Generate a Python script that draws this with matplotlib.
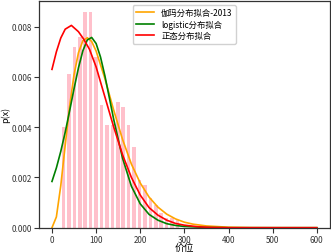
import numpy as np
import matplotlib
matplotlib.use("Agg")
import matplotlib.pyplot as plt

plt.rcParams['font.family'] = ['Noto Sans CJK SC', 'DejaVu Sans']
plt.rcParams['axes.unicode_minus'] = False

# histogram (density per bin), bins of ~12.3 starting near 20
bin_start, bin_width = 20.0, 12.3
hist_density = [0.0040, 0.0061, 0.0072, 0.0076, 0.0086, 0.0086, 0.0068, 0.0049,
                0.0041, 0.0041, 0.0050, 0.0048, 0.0041, 0.0032, 0.0019, 0.0017,
                0.0012, 0.0009, 0.0006, 0.0004, 0.0004, 0.0003]

# fitted curves
gamma_x = [0, 10, 20, 30, 40, 50, 60, 70, 80, 90, 100, 120, 140, 160, 180, 200,
           220, 240, 260, 280, 300, 320, 350, 400, 450, 500, 600]
gamma_y = [0, 0.00043, 0.00168, 0.00328, 0.00483, 0.00609, 0.00696, 0.00744,
           0.00756, 0.00741, 0.00703, 0.00593, 0.00467, 0.00351, 0.00253, 0.00178,
           0.00122, 0.00082, 0.00054, 0.00035, 0.00022, 0.00014, 0.00007, 0.00002,
           0.000005, 0.000001, 0]

logit_x = [0, 10, 20, 30, 40, 50, 60, 70, 80, 90, 100, 110, 120, 140, 160, 180,
           200, 220, 240, 260, 280, 300, 350, 400, 500, 600]
logit_y = [0.00184, 0.00238, 0.00304, 0.00380, 0.00465, 0.00553, 0.00636, 0.00704,
           0.00747, 0.00757, 0.00733, 0.00679, 0.00604, 0.00430, 0.00276, 0.00165,
           0.00095, 0.00053, 0.00030, 0.00016, 0.00009, 0.00005, 0.00001, 0, 0, 0]

norm_x = [0, 10, 20, 30, 44, 60, 72, 85, 100, 120, 140, 160, 180, 200, 220, 240,
          260, 280, 300, 330, 360, 400, 500, 600]
norm_y = [0.0063, 0.0070, 0.00755, 0.0079, 0.00805, 0.0078, 0.0075, 0.0071, 0.0064,
          0.0052, 0.0040, 0.0029, 0.0020, 0.0013, 0.0008, 0.0005, 0.0003, 0.00017,
          0.0001, 0.00004, 0.00001, 0, 0, 0]

labels = ["伽玛分布拟合-2013", "logistic分布拟合", "正态分布拟合"]

edges = bin_start + bin_width * np.arange(len(hist_density) + 1)
centers = (edges[:-1] + edges[1:]) / 2

fig = plt.figure(figsize=(3.31, 2.53), dpi=100)
ax = fig.add_axes([0.117, 0.096, 0.88, 0.897])
ax.hist(centers, bins=edges, weights=hist_density, rwidth=0.65, color="pink")
ax.plot(gamma_x, gamma_y, color="orange", lw=1.2, label=labels[0])
ax.plot(logit_x, logit_y, color="green", lw=1.2, label=labels[1])
ax.plot(norm_x, norm_y, color="red", lw=1.2, label=labels[2])

ax.set_xticks([0, 100, 200, 300, 400, 500, 600])
ax.set_yticks([0, 0.002, 0.004, 0.006, 0.008])
ax.yaxis.set_major_formatter(matplotlib.ticker.FormatStrFormatter("%.3f"))
ax.tick_params(direction="out", length=3.5, width=0.8, labelsize=5.8, pad=1.5,
               colors="#333333")
for s in ax.spines.values():
    s.set_color("#333333"); s.set_linewidth(0.9)
ax.set_xlabel("价位", fontsize=7, labelpad=-1)
ax.set_ylabel("p(x)", fontsize=6.5, labelpad=1)
ax.legend(loc="upper center", fontsize=6, handlelength=2.2, borderpad=0.4,
          labelspacing=0.3, framealpha=0.9)
fig.savefig("out.png", dpi=100)
